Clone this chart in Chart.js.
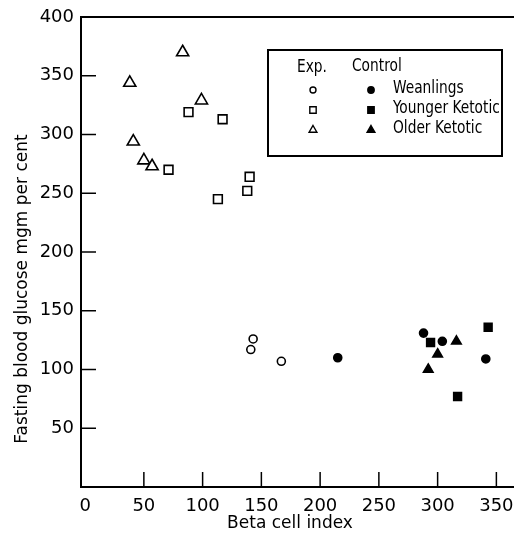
<!DOCTYPE html>
<html>
<head>
<meta charset="utf-8">
<script src="https://cdn.jsdelivr.net/npm/chart.js@4/dist/chart.umd.min.js"></script>
<style>
  html, body { margin: 0; padding: 0; background: #fff; }
  #wrap { width: 514px; height: 535px; position: relative; }
</style>
</head>
<body>
<div id="wrap"><canvas id="glucose"></canvas></div>
<script>

	/* data: [beta cell index, fasting glucose] */

	var expWeanlingsX = [143, 141, 167];
	var expWeanlingsY = [126, 117, 107];

	var expYoungerX = [71, 88, 117, 113, 138, 140];
	var expYoungerY = [270, 319, 313, 245, 252, 264];

	var expOlderX = [38, 41, 50, 57, 83, 99];
	var expOlderY = [344, 294, 278, 273, 370, 329];

	var ctlWeanlingsX = [215, 288, 304, 341];
	var ctlWeanlingsY = [110, 131, 124, 109];

	var ctlYoungerX = [294, 343, 317];
	var ctlYoungerY = [123, 136, 77];

	var ctlOlderX = [316, 300, 292];
	var ctlOlderY = [124, 113, 100];

	var xTicks = [0, 50, 100, 150, 200, 250, 300, 350];
	var yTicks = [50, 100, 150, 200, 250, 300, 350, 400];

	var fontName = "'DejaVu Sans', sans-serif";
	var legendFont = "'DejaVu Sans Condensed', 'DejaVu Sans', sans-serif";

	function pts(xs, ys) {
		var out = [];
		for (var i = 0; i < xs.length; i++) {
			out.push({x: xs[i], y: ys[i]});
		}
		return out;
	}

	function series(label, xs, ys, style, radius, filled) {
		return {
			label: label,
			data: pts(xs, ys),
			pointStyle: style,
			pointRadius: radius,
			pointHoverRadius: radius,
			pointBorderWidth: 1.6,
			borderColor: '#000',
			pointBackgroundColor: filled ? '#000' : '#fff',
			backgroundColor: filled ? '#000' : '#fff'
		};
	}

	var datasets = [
		series('Exp. Weanlings', expWeanlingsX, expWeanlingsY, 'circle', 4, false),
		series('Exp. Younger Ketotic', expYoungerX, expYoungerY, 'rect', 6.2, false),
		series('Exp. Older Ketotic', expOlderX, expOlderY, 'triangle', 7, false),
		series('Control Weanlings', ctlWeanlingsX, ctlWeanlingsY, 'circle', 4, true),
		series('Control Younger Ketotic', ctlYoungerX, ctlYoungerY, 'rect', 5.5, true),
		series('Control Older Ketotic', ctlOlderX, ctlOlderY, 'triangle', 5.5, true)
	];

	// narrow, tall lettering like the original's stencil face
	function narrowText(ctx, txt, x, y, sx) {
		ctx.save();
		ctx.translate(x, y);
		ctx.scale(sx, 1);
		ctx.fillText(txt, 0, 0);
		ctx.restore();
	}

	/* frame, inward ticks, axis titles and the boxed key */
	var decor = {
		id: 'decor',
		afterDraw: function(chart) {
			var ctx = chart.ctx;
			var a = chart.chartArea;
			var xs = chart.scales.x, ys = chart.scales.y;
			ctx.save();
			ctx.strokeStyle = '#000';
			ctx.lineWidth = 2;

			// top frame line
			ctx.beginPath();
			ctx.moveTo(a.left, a.top);
			ctx.lineTo(a.right, a.top);
			ctx.stroke();

			// ticks pointing into the plot
			ctx.lineWidth = 1.5;
			xTicks.forEach(function(v) {
				if (v === 0) return;
				var px = xs.getPixelForValue(v);
				ctx.beginPath();
				ctx.moveTo(px, a.bottom);
				ctx.lineTo(px, a.bottom - 15);
				ctx.stroke();
			});
			yTicks.forEach(function(v) {
				if (v === 400) return;
				var py = ys.getPixelForValue(v);
				ctx.beginPath();
				ctx.moveTo(a.left, py);
				ctx.lineTo(a.left + 15, py);
				ctx.stroke();
			});

			// axis titles
			ctx.fillStyle = '#000';
			ctx.font = '17px ' + fontName;
			ctx.textAlign = 'center';
			ctx.textBaseline = 'middle';
			ctx.fillText('Beta cell index', 290, 524);
			ctx.save();
			ctx.translate(23, 289);
			ctx.rotate(-Math.PI / 2);
			ctx.font = '17px ' + fontName;
			ctx.fillText('Fasting blood glucose mgm per cent', 0, 0);
			ctx.restore();

			// key
			ctx.lineWidth = 2;
			ctx.strokeRect(268, 50, 234, 106);
			ctx.font = '18px ' + legendFont;
			ctx.textAlign = 'left';
			narrowText(ctx, 'Exp.', 297, 67, 0.85);
			narrowText(ctx, 'Control', 352, 66, 0.85);
			var rows = ['Weanlings', 'Younger Ketotic', 'Older Ketotic'];
			var styles = ['circle', 'rect', 'triangle'];
			var rowY = [90, 110, 130];
			for (var i = 0; i < rows.length; i++) {
				ctx.lineWidth = 1.4;
				ctx.fillStyle = '#fff';
				Chart.helpers.drawPoint(ctx, {pointStyle: styles[i], radius: styles[i] === 'circle' ? 3 : 4.5, borderWidth: 1.4}, 313, rowY[i]);
				ctx.fillStyle = '#000';
				Chart.helpers.drawPoint(ctx, {pointStyle: styles[i], radius: styles[i] === 'circle' ? 3.2 : 4.5, borderWidth: 1.4}, 371, rowY[i]);
				narrowText(ctx, rows[i], 393, rowY[i] - 2, 0.85);
			}
			ctx.restore();
		}
	};

	var glucoseChart = new Chart(document.getElementById('glucose'), {
		type: 'scatter',
		data: {datasets: datasets},
		plugins: [decor],
		options: {
			responsive: true,
			maintainAspectRatio: false,
			animation: false,
			events: [],
			layout: {autoPadding: false, padding: {top: 17, right: 0, left: 0, bottom: 0}},
			plugins: {
				legend: {display: false},
				tooltip: {enabled: false}
			},
			scales: {
				x: {
					type: 'linear',
					min: -3.5,
					max: 365,
					afterBuildTicks: function(scale) {
						scale.ticks = xTicks.map(function(v) { return {value: v}; });
					},
					afterFit: function(scale) {
						scale.height = 48;
						scale.paddingLeft = 0;
						scale.paddingRight = 0;
					},
					grid: {display: false, drawTicks: false},
					border: {display: true, color: '#000', width: 2},
					ticks: {
						color: '#000',
						padding: 9,
						maxRotation: 0,
						font: {family: fontName, size: 18}
					}
				},
				y: {
					type: 'linear',
					min: 0,
					max: 400,
					afterBuildTicks: function(scale) {
						scale.ticks = yTicks.map(function(v) { return {value: v}; });
					},
					afterFit: function(scale) {
						scale.width = 81;
						scale.paddingTop = 0;
						scale.paddingBottom = 0;
					},
					grid: {display: false, drawTicks: false},
					border: {display: true, color: '#000', width: 2},
					ticks: {
						color: '#000',
						padding: 7,
						font: {family: fontName, size: 18}
					}
				}
			}
		}
	});

</script>
</body>
</html>
